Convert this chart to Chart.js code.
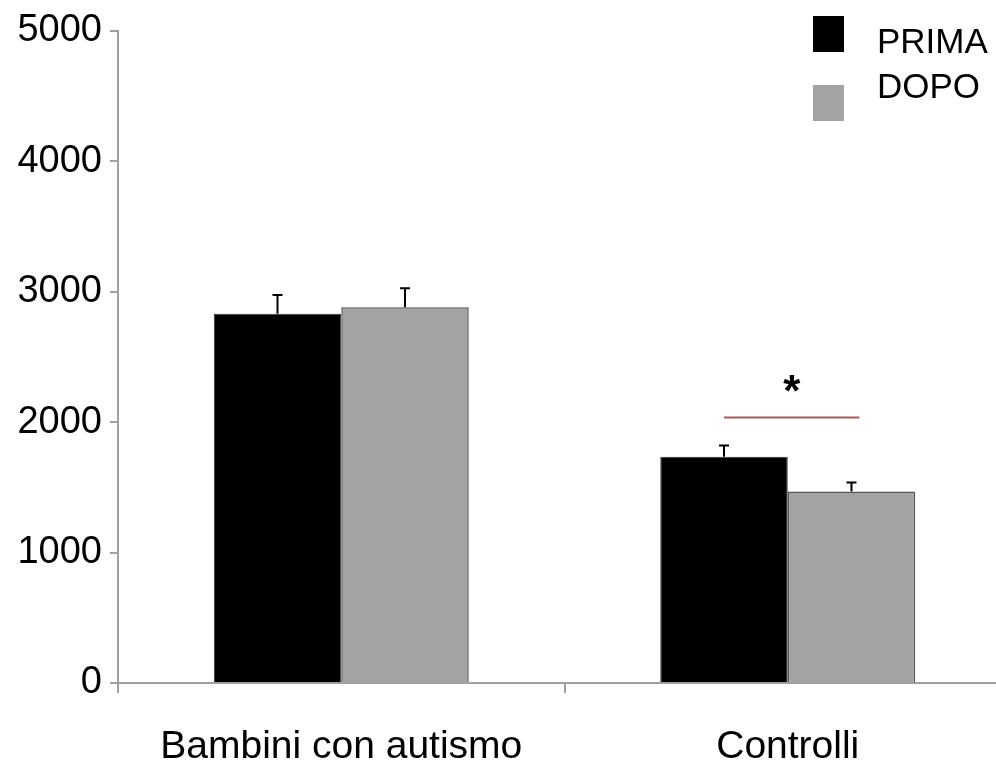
<!DOCTYPE html>
<html>
<head>
<meta charset="utf-8">
<script src="https://cdn.jsdelivr.net/npm/chart.js@4.4.1/dist/chart.umd.min.js"></script>
<style>
    html, body { margin: 0; padding: 0; background: #fff; overflow: hidden; }
    #wrap { width: 1011px; height: 767px; }
</style>
</head>
<body>
<div id="wrap"><canvas id="chart"></canvas></div>
<script>
const categories = ['Bambini con autismo', 'Controlli'];
const seriesNames = ['PRIMA', 'DOPO'];
const primaValues = [2830, 1735];
const dopoValues = [2880, 1468];
const primaErrors = [145, 85];
const dopoErrors = [146, 70];
const yTicks = [0, 1000, 2000, 3000, 4000, 5000];
// significance bar over "Controlli"
const sigCategory = 1;
const sigValue = 2035;
const sigLabel = '*';

const axisColor = '#a0a0a0';
const fontFamily = "'Liberation Sans', Arial, sans-serif";

const errorBars = {
    id: 'errorBars',
    afterDatasetsDraw(chart) {
        const ctx = chart.ctx;
        const y = chart.scales.y;
        const errs = [primaErrors, dopoErrors];
        ctx.save();
        ctx.strokeStyle = '#000';
        ctx.lineWidth = 2;
        chart.data.datasets.forEach((ds, i) => {
            chart.getDatasetMeta(i).data.forEach((bar, j) => {
                const top = y.getPixelForValue(ds.data[j] + errs[i][j]);
                ctx.beginPath();
                ctx.moveTo(bar.x, bar.y);
                ctx.lineTo(bar.x, top);
                ctx.moveTo(bar.x - 5, top);
                ctx.lineTo(bar.x + 5, top);
                ctx.stroke();
            });
        });

        // significance line and star
        const b1 = chart.getDatasetMeta(0).data[sigCategory];
        const b2 = chart.getDatasetMeta(1).data[sigCategory];
        const ly = y.getPixelForValue(sigValue);
        const x1 = b1.x;
        const x2 = b2.x + 8;
        ctx.strokeStyle = '#a85a5a';
        ctx.lineWidth = 2;
        ctx.beginPath();
        ctx.moveTo(x1, ly);
        ctx.lineTo(x2, ly);
        ctx.stroke();
        ctx.fillStyle = '#000';
        ctx.font = 'bold 44px ' + fontFamily;
        ctx.textAlign = 'center';
        ctx.textBaseline = 'top';
        ctx.fillText(sigLabel, (x1 + x2) / 2, ly - 46);
        ctx.restore();
    }
};

const legendBoxes = {
    id: 'legendBoxes',
    afterDraw(chart) {
        const ctx = chart.ctx;
        const boxes = [
            { color: '#000000', top: 16, text: 53 },
            { color: '#a3a3a3', top: 85, text: 98 }
        ];
        ctx.save();
        ctx.font = '35px ' + fontFamily;
        ctx.textAlign = 'left';
        ctx.textBaseline = 'alphabetic';
        boxes.forEach((b, i) => {
            ctx.fillStyle = b.color;
            ctx.fillRect(813, b.top, 31, 36);
            ctx.fillStyle = '#000';
            ctx.fillText(seriesNames[i], 877, b.text);
        });
        ctx.restore();
    }
};

new Chart(document.getElementById('chart'), {
    type: 'bar',
    data: {
        labels: categories,
        datasets: [
            {
                label: seriesNames[0],
                data: primaValues,
                backgroundColor: '#000000',
                borderColor: '#333333',
                borderWidth: 1
            },
            {
                label: seriesNames[1],
                data: dopoValues,
                backgroundColor: '#a3a3a3',
                borderColor: '#555555',
                borderWidth: 1.5
            }
        ]
    },
    options: {
        responsive: true,
        maintainAspectRatio: false,
        animation: false,
        categoryPercentage: 0.571,
        barPercentage: 1,
        layout: { padding: { top: 29, right: 0, left: 0, bottom: 0 } },
        plugins: {
            legend: { display: false },
            tooltip: { enabled: false }
        },
        scales: {
            x: {
                afterFit: (scale) => { scale.height = 84; },
                border: { color: axisColor, width: 2 },
                grid: {
                    drawOnChartArea: false,
                    drawTicks: true,
                    tickLength: 10,
                    color: axisColor,
                    lineWidth: 2,
                    offset: true
                },
                ticks: {
                    color: '#000',
                    padding: 31,
                    maxRotation: 0,
                    font: { family: fontFamily, size: 39 }
                }
            },
            y: {
                min: 0,
                max: 5000,
                afterFit: (scale) => { scale.width = 118; },
                afterBuildTicks: (scale) => { scale.ticks = yTicks.map(v => ({ value: v })); },
                border: { color: axisColor, width: 2 },
                grid: {
                    drawOnChartArea: false,
                    drawTicks: true,
                    tickLength: 8,
                    color: axisColor,
                    lineWidth: 2
                },
                ticks: {
                    color: '#000',
                    padding: 8,
                    callback: (v) => String(v),
                    font: { family: fontFamily, size: 38 }
                }
            }
        }
    },
    plugins: [errorBars, legendBoxes]
});
</script>
</body>
</html>
